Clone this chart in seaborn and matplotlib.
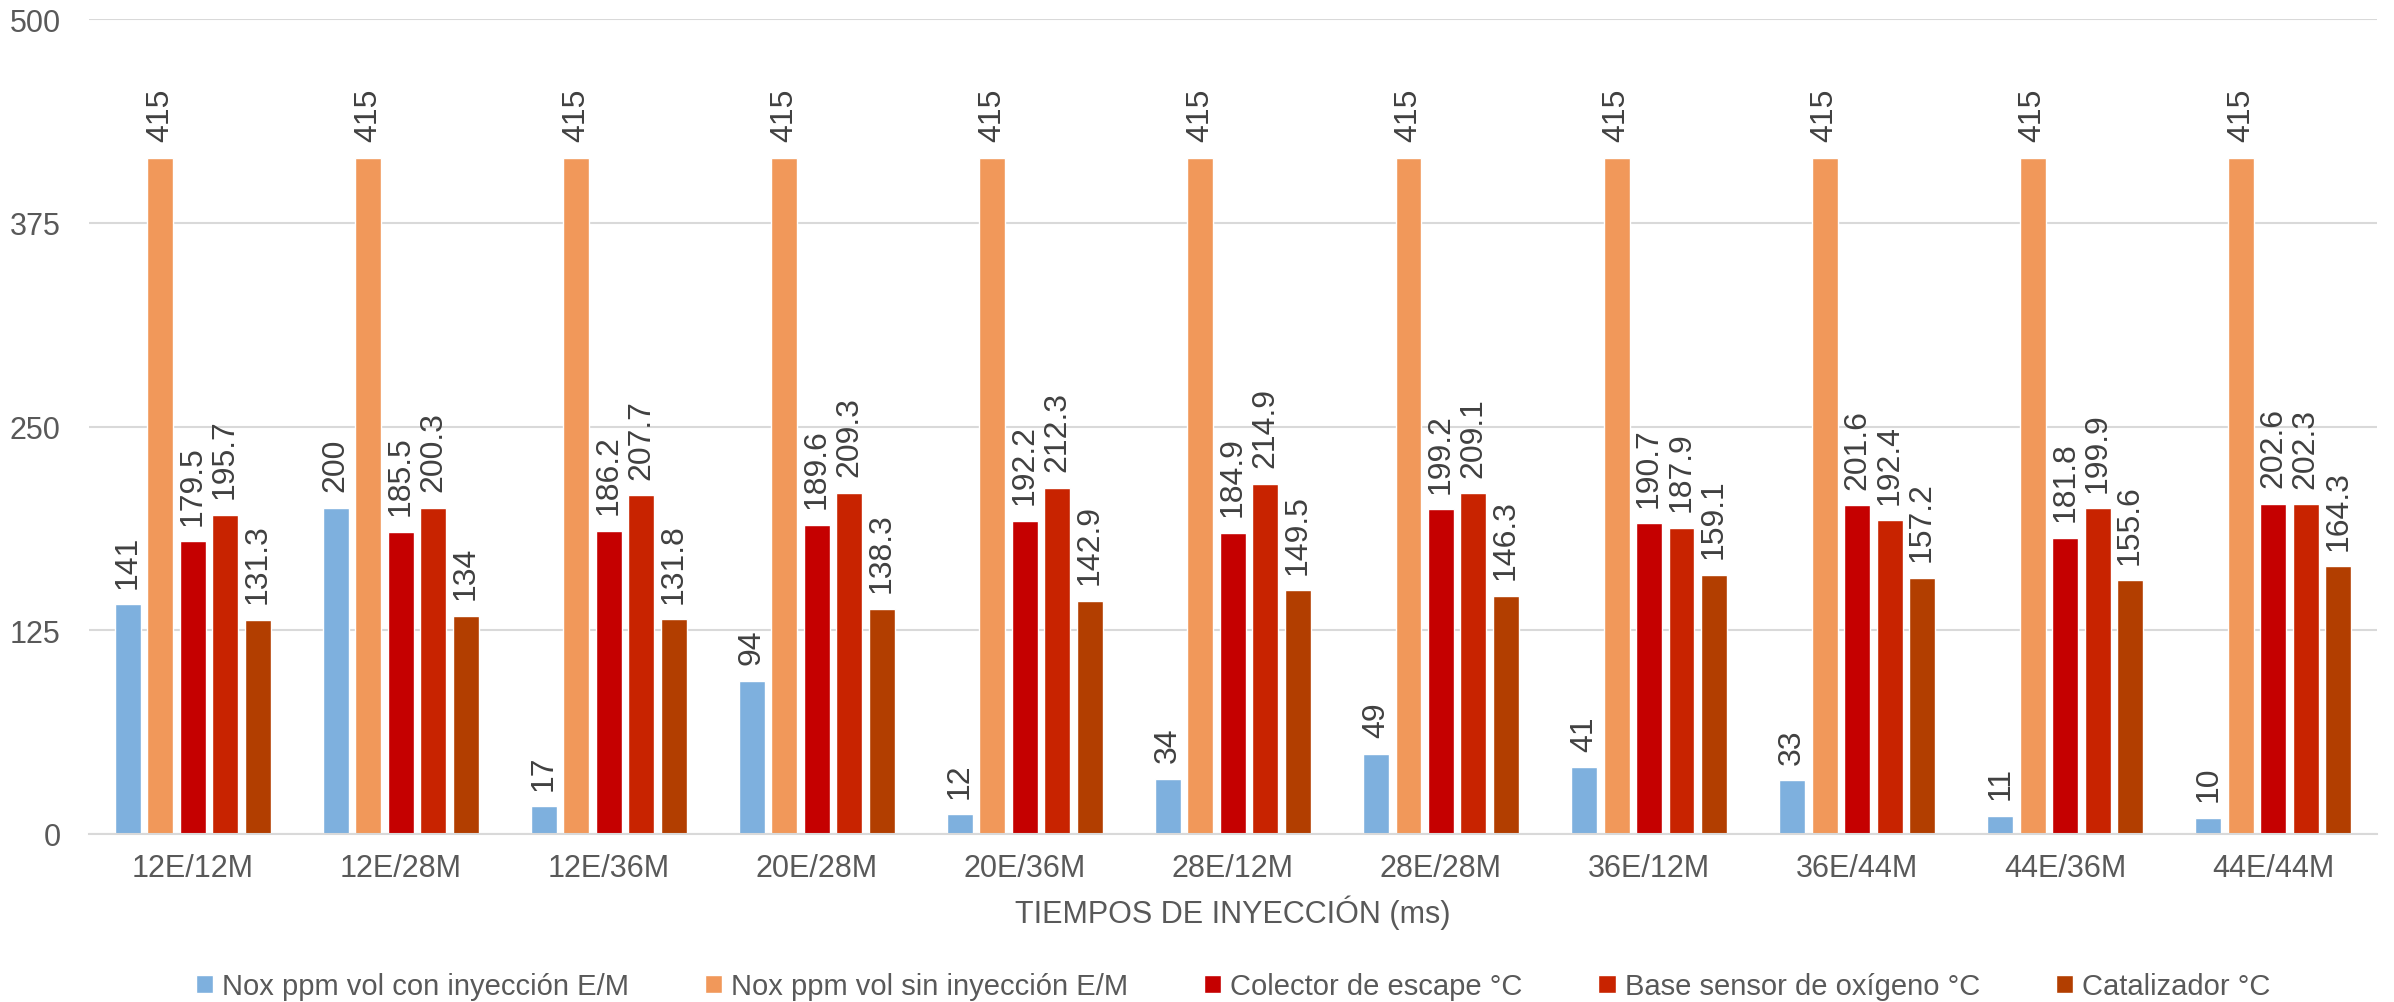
import matplotlib
matplotlib.use("Agg")
import matplotlib.pyplot as plt
import seaborn as sns
import pandas as pd

# Injection timing combinations (exhaust / manifold)
categories = ["12E/12M", "12E/28M", "12E/36M", "20E/28M", "20E/36M", "28E/12M",
              "28E/28M", "36E/12M", "36E/44M", "44E/36M", "44E/44M"]

nox_con = [141, 200, 17, 94, 12, 34, 49, 41, 33, 11, 10]
nox_sin = [415, 415, 415, 415, 415, 415, 415, 415, 415, 415, 415]
colector = [179.5, 185.5, 186.2, 189.6, 192.2, 184.9, 199.2, 190.7, 201.6, 181.8, 202.6]
base_sensor = [195.7, 200.3, 207.7, 209.3, 212.3, 214.9, 209.1, 187.9, 192.4, 199.9, 202.3]
catalizador = [131.3, 134, 131.8, 138.3, 142.9, 149.5, 146.3, 159.1, 157.2, 155.6, 164.3]

series_names = ["Nox ppm vol con inyección E/M", "Nox ppm vol sin inyección E/M",
                "Colector de escape °C", "Base sensor de oxígeno °C", "Catalizador °C"]
series_values = [nox_con, nox_sin, colector, base_sensor, catalizador]
colors = ["#7EB0DE", "#F1985A", "#C50000", "#C82300", "#B23E00"]
y_ticks = [0, 125, 250, 375, 500]

rows = []
for name, vals in zip(series_names, series_values):
    for cat, v in zip(categories, vals):
        rows.append({"cat": cat, "serie": name, "valor": v})
df = pd.DataFrame(rows)

sns.set_theme(style="white")
plt.rcParams["font.family"] = ["Liberation Sans", "DejaVu Sans"]

fig = plt.figure(figsize=(23.94, 10.03), dpi=100)
ax = fig.add_axes([0.037, 0.1675, 0.956, 0.8125])

sns.barplot(data=df, x="cat", y="valor", hue="serie", order=categories,
            hue_order=series_names, palette=colors, width=0.78, gap=0.2,
            saturation=1, ax=ax, legend=True)

for cont in ax.containers:
    ax.bar_label(cont, labels=[f"{v:g}" for v in cont.datavalues], rotation=90,
                 padding=12, fontsize=23, color="#404040")

ax.set_ylim(0, 500)
ax.set_yticks(y_ticks)
ax.set_xlim(-0.5, len(categories) - 0.5)
ax.yaxis.grid(True, color="#D9D9D9", linewidth=1.5)
ax.set_axisbelow(True)
for s in ["top", "right", "left"]:
    ax.spines[s].set_visible(False)
ax.spines["bottom"].set_color("#D9D9D9")
ax.spines["bottom"].set_linewidth(1.5)
ax.tick_params(axis="both", length=0, labelsize=22, labelcolor="#595959")
ax.tick_params(axis="x", pad=14)
ax.tick_params(axis="y", pad=20)
ax.set_ylabel("")
ax.set_xlabel("TIEMPOS DE INYECCIÓN (ms)", fontsize=22, color="#595959", labelpad=8)

handles, labels = ax.get_legend_handles_labels()
ax.legend(handles, labels, loc="center", bbox_to_anchor=(0.5, -0.187), ncol=5,
          frameon=False, fontsize=21, labelcolor="#595959", handlelength=0.6,
          handleheight=0.6, handletextpad=0.3, columnspacing=2.6)

fig.savefig("out.png", dpi=100)
